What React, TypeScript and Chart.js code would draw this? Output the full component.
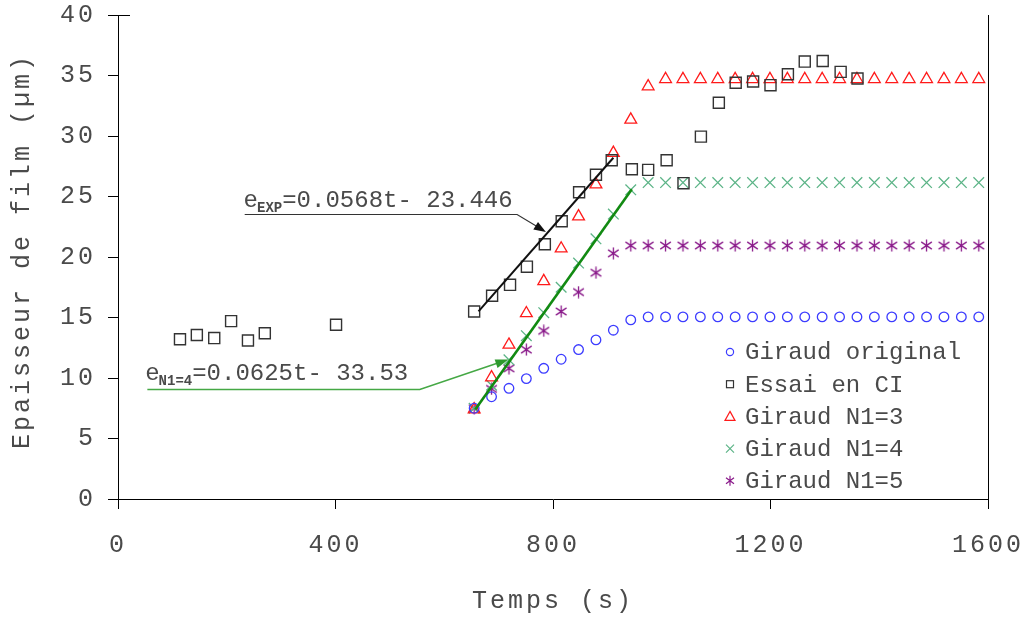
import React, { useEffect, useRef } from "react";
import { Chart, registerables } from "chart.js";
Chart.register(...registerables);

// ---- data ----
const giraudTimes = [655, 687, 719, 751, 783, 815, 847, 879, 911, 943, 975, 1007, 1039, 1071, 1103, 1135, 1167, 1199, 1231, 1263, 1295, 1327, 1359, 1391, 1423, 1455, 1487, 1519, 1551, 1583];
const giraudOriginal = [7.5, 8.45, 9.15, 9.95, 10.8, 11.55, 12.35, 13.15, 13.95, 14.8, 15.05, 15.05, 15.05, 15.05, 15.05, 15.05, 15.05, 15.05, 15.05, 15.05, 15.05, 15.05, 15.05, 15.05, 15.05, 15.05, 15.05, 15.05, 15.05, 15.05];
const giraudN13 = [7.4, 10.05, 12.75, 15.35, 18.0, 20.7, 23.35, 26.0, 28.6, 31.35, 34.1, 34.7, 34.7, 34.7, 34.7, 34.7, 34.7, 34.7, 34.7, 34.7, 34.7, 34.7, 34.7, 34.7, 34.7, 34.7, 34.7, 34.7, 34.7, 34.7];
const giraudN14 = [7.5, 9.4, 11.5, 13.5, 15.4, 17.5, 19.5, 21.5, 23.55, 25.55, 26.15, 26.15, 26.15, 26.15, 26.15, 26.15, 26.15, 26.15, 26.15, 26.15, 26.15, 26.15, 26.15, 26.15, 26.15, 26.15, 26.15, 26.15, 26.15, 26.15];
const giraudN15 = [7.5, 9.1, 10.8, 12.35, 13.9, 15.5, 17.1, 18.7, 20.3, 20.95, 20.95, 20.95, 20.95, 20.95, 20.95, 20.95, 20.95, 20.95, 20.95, 20.95, 20.95, 20.95, 20.95, 20.95, 20.95, 20.95, 20.95, 20.95, 20.95, 20.95];
const essaiTimes = [114, 145, 177, 208, 239, 270, 401, 655, 688, 721, 752, 785, 816, 848, 879, 908, 945, 975, 1009, 1040, 1072, 1105, 1136, 1168, 1200, 1232, 1263, 1296, 1329, 1360];
const essaiValues = [13.2, 13.55, 13.3, 14.7, 13.1, 13.7, 14.4, 15.5, 16.8, 17.7, 19.2, 21.05, 22.95, 25.35, 26.8, 28.0, 27.25, 27.2, 28.0, 26.1, 29.95, 32.75, 34.4, 34.5, 34.2, 35.1, 36.15, 36.2, 35.3, 34.75];
const fitExpTimes = [663, 911];
const fitExpValues = [15.5, 28.2];
const fitN14Times = [657, 945];
const fitN14Values = [7.4, 25.6];
const xTickValues = [0, 400, 800, 1200, 1600];
const yTickValues = [0, 5, 10, 15, 20, 25, 30, 35, 40];
const legendLabels = ["Giraud original", "Essai en CI", "Giraud N1=3", "Giraud N1=4", "Giraud N1=5"];
const xTitle = "Temps (s)";
const yTitle = "Epaisseur de film (µm)";

// annotation anchors (data units)
const expNote = { textX: 231, baseline: 24.1, lineY: 23.53, lineX0: 233, lineX1: 734, tipX: 787, tipY: 22.07 };
const n14Note = { textX: 50, baseline: 9.83, lineY: 9.07, lineX0: 54, lineX1: 555, tipX: 718, tipY: 11.53 };

const C_BLUE = "#3c3cff";
const C_SQ = "#333333";
const C_RED = "#ff1a1a";
const C_X = "#5cb487";
const C_STAR = "#8a1a8a";
const C_TEXT = "#4a4a4a";
const FONT = "'Liberation Mono', 'Courier New', monospace";

function zip(xs: number[], ys: number[]) {
  return xs.map((x, i) => ({ x, y: ys[i] }));
}

function makeStar(color: string, size: number) {
  const c = document.createElement("canvas");
  c.width = size;
  c.height = size;
  const g = c.getContext("2d")!;
  g.strokeStyle = color;
  g.lineWidth = 1.3;
  const m = size / 2;
  g.beginPath();
  g.moveTo(m, 0.5);
  g.lineTo(m, size - 0.5);
  g.moveTo(1.2, size * 0.22);
  g.lineTo(size - 1.2, size * 0.78);
  g.moveTo(size - 1.2, size * 0.22);
  g.lineTo(1.2, size * 0.78);
  g.stroke();
  return c;
}

function drawArrowHead(ctx: CanvasRenderingContext2D, fx: number, fy: number, tx: number, ty: number, color: string, len: number, w: number) {
  const a = Math.atan2(ty - fy, tx - fx);
  const bx = tx - Math.cos(a) * len;
  const by = ty - Math.sin(a) * len;
  const px = -Math.sin(a) * w / 2;
  const py = Math.cos(a) * w / 2;
  ctx.fillStyle = color;
  ctx.beginPath();
  ctx.moveTo(tx, ty);
  ctx.lineTo(bx + px, by + py);
  ctx.lineTo(bx - px, by - py);
  ctx.closePath();
  ctx.fill();
}

function drawSubText(ctx: CanvasRenderingContext2D, x: number, y: number, sub: string, rest: string) {
  ctx.fillStyle = C_TEXT;
  ctx.textBaseline = "alphabetic";
  ctx.textAlign = "left";
  ctx.font = `24px ${FONT}`;
  ctx.fillText("e", x, y);
  let cx = x + ctx.measureText("e").width - 1;
  ctx.font = `bold 14px ${FONT}`;
  ctx.fillText(sub, cx, y + 4.5);
  cx += ctx.measureText(sub).width;
  ctx.font = `24px ${FONT}`;
  ctx.fillText(rest, cx, y);
}

const overlayPlugin = {
  id: "overlay",
  beforeDraw(chart: any) {
    chart.ctx.letterSpacing = "3px";
  },
  afterDraw(chart: any) {
    const ctx: CanvasRenderingContext2D = chart.ctx;
    const { chartArea } = chart;
    const xs = chart.scales.x;
    const ys = chart.scales.y;
    const px = (v: number) => xs.getPixelForValue(v);
    const py = (v: number) => ys.getPixelForValue(v);

    // y axis title
    ctx.save();
    (ctx as any).letterSpacing = "3px";
    ctx.translate(22, (chartArea.top + chartArea.bottom) / 2 - 6);
    ctx.rotate(-Math.PI / 2);
    ctx.font = `25px ${FONT}`;
    ctx.fillStyle = C_TEXT;
    ctx.textAlign = "center";
    ctx.textBaseline = "middle";
    ctx.fillText(yTitle, 0, 0);
    ctx.restore();

    ctx.save();
    (ctx as any).letterSpacing = "0px";

    // right frame line and small top tick
    ctx.strokeStyle = "#000";
    ctx.lineWidth = 1;
    ctx.beginPath();
    ctx.moveTo(Math.round(chartArea.right) + 0.5, chartArea.top);
    ctx.lineTo(Math.round(chartArea.right) + 0.5, chartArea.bottom);
    ctx.moveTo(chartArea.left, Math.round(chartArea.top) + 0.5);
    ctx.lineTo(chartArea.left + 12, Math.round(chartArea.top) + 0.5);
    ctx.stroke();

    // EXP annotation
    {
      const n = expNote;
      drawSubText(ctx, px(n.textX), py(n.baseline), "EXP", "=0.0568t- 23.446");
      const ly = Math.round(py(n.lineY)) + 0.5;
      ctx.strokeStyle = "#333";
      ctx.lineWidth = 1.2;
      ctx.beginPath();
      ctx.moveTo(px(n.lineX0), ly);
      ctx.lineTo(px(n.lineX1), ly);
      const tx = px(n.tipX), ty = py(n.tipY);
      const a = Math.atan2(ty - ly, tx - px(n.lineX1));
      ctx.lineTo(tx - Math.cos(a) * 8, ty - Math.sin(a) * 8);
      ctx.stroke();
      drawArrowHead(ctx, px(n.lineX1), ly, tx, ty, "#111", 12, 9);
    }
    // N1=4 annotation
    {
      const n = n14Note;
      drawSubText(ctx, px(n.textX), py(n.baseline), "N1=4", "=0.0625t- 33.53");
      const ly = Math.round(py(n.lineY)) + 0.5;
      ctx.strokeStyle = "#45a845";
      ctx.lineWidth = 1.6;
      ctx.beginPath();
      ctx.moveTo(px(n.lineX0), ly);
      ctx.lineTo(px(n.lineX1), ly);
      const tx = px(n.tipX), ty = py(n.tipY);
      const a = Math.atan2(ty - ly, tx - px(n.lineX1));
      ctx.lineTo(tx - Math.cos(a) * 8, ty - Math.sin(a) * 8);
      ctx.stroke();
      drawArrowHead(ctx, px(n.lineX1), ly, tx, ty, "#2e9a2e", 13, 9);
    }

    // legend
    const mx = chartArea.right - 258;
    const tx = chartArea.right - 243;
    const y0 = chartArea.top + 337;
    const step = 32.2;
    ctx.font = `24px ${FONT}`;
    ctx.textBaseline = "middle";
    ctx.textAlign = "left";
    legendLabels.forEach((label, i) => {
      const y = y0 + i * step;
      ctx.lineWidth = 1.2;
      if (i === 0) {
        ctx.strokeStyle = C_BLUE;
        ctx.beginPath();
        ctx.arc(mx, y, 3.6, 0, Math.PI * 2);
        ctx.stroke();
      } else if (i === 1) {
        ctx.strokeStyle = C_SQ;
        ctx.strokeRect(mx - 3.5, y - 3.5, 7, 7);
      } else if (i === 2) {
        ctx.strokeStyle = C_RED;
        ctx.beginPath();
        ctx.moveTo(mx, y - 5);
        ctx.lineTo(mx + 5, y + 4);
        ctx.lineTo(mx - 5, y + 4);
        ctx.closePath();
        ctx.stroke();
      } else if (i === 3) {
        ctx.strokeStyle = C_X;
        ctx.beginPath();
        ctx.moveTo(mx - 4, y - 4);
        ctx.lineTo(mx + 4, y + 4);
        ctx.moveTo(mx + 4, y - 4);
        ctx.lineTo(mx - 4, y + 4);
        ctx.stroke();
      } else {
        ctx.strokeStyle = C_STAR;
        ctx.beginPath();
        ctx.moveTo(mx, y - 5);
        ctx.lineTo(mx, y + 5);
        ctx.moveTo(mx - 4, y - 3);
        ctx.lineTo(mx + 4, y + 3);
        ctx.moveTo(mx + 4, y - 3);
        ctx.lineTo(mx - 4, y + 3);
        ctx.stroke();
      }
      ctx.fillStyle = C_TEXT;
      ctx.fillText(label, tx, y + 1);
    });
    ctx.restore();
  },
};

function noPad(s: any) {
  s.paddingTop = 0;
  s.paddingBottom = 0;
  s.paddingLeft = 0;
  s.paddingRight = 0;
}

export default function App() {
  const ref = useRef<HTMLCanvasElement | null>(null);
  useEffect(() => {
    if (!ref.current) return;
    const star = makeStar(C_STAR, 13);
    const tickFont = { family: FONT, size: 25 };
    const chart = new Chart(ref.current, {
      type: "scatter",
      data: {
        datasets: [
          {
            label: "fit EXP",
            data: zip(fitExpTimes, fitExpValues),
            showLine: true,
            borderColor: "#111",
            borderWidth: 2,
            pointRadius: 0,
          },
          {
            label: "fit N1=4",
            data: zip(fitN14Times, fitN14Values),
            showLine: true,
            borderColor: "#128a12",
            borderWidth: 2.6,
            pointRadius: 0,
          },
          {
            label: legendLabels[1],
            data: zip(essaiTimes, essaiValues),
            pointStyle: "rect",
            radius: 7.8,
            borderColor: C_SQ,
            backgroundColor: "rgba(0,0,0,0)",
            borderWidth: 1.4,
          },
          {
            label: legendLabels[0],
            data: zip(giraudTimes, giraudOriginal),
            pointStyle: "circle",
            radius: 4.8,
            borderColor: C_BLUE,
            backgroundColor: "rgba(0,0,0,0)",
            borderWidth: 1.3,
          },
          {
            label: legendLabels[2],
            data: zip(giraudTimes, giraudN13),
            pointStyle: "triangle",
            radius: 6.8,
            borderColor: C_RED,
            backgroundColor: "rgba(0,0,0,0)",
            borderWidth: 1.3,
          },
          {
            label: legendLabels[3],
            data: zip(giraudTimes, giraudN14),
            pointStyle: "crossRot",
            radius: 7.5,
            borderColor: C_X,
            backgroundColor: "rgba(0,0,0,0)",
            borderWidth: 1.3,
          },
          {
            label: legendLabels[4],
            data: zip(giraudTimes, giraudN15),
            pointStyle: star as any,
            radius: 6,
            borderColor: C_STAR,
            backgroundColor: "rgba(0,0,0,0)",
          },
        ],
      },
      options: {
        animation: false,
        responsive: false,
        events: [],
        layout: { padding: { top: 15, right: 42, left: 0, bottom: 0 } },
        plugins: { legend: { display: false }, tooltip: { enabled: false } },
        scales: {
          x: {
            type: "linear",
            min: 0,
            max: 1600,
            afterFit: (s: any) => { s.height = 121; noPad(s); },
            afterBuildTicks: (s: any) => { s.ticks = xTickValues.map((v) => ({ value: v })); },
            border: { display: true, color: "#000", width: 1 },
            grid: { display: true, drawOnChartArea: false, drawTicks: true, tickLength: 10, color: "#000" },
            ticks: { font: tickFont, color: C_TEXT, padding: 21, maxRotation: 0, callback: (v: any) => String(v) },
            title: { display: true, text: xTitle, font: { family: FONT, size: 25 }, color: C_TEXT, padding: { top: 0, bottom: 4 } },
          },
          y: {
            type: "linear",
            min: 0,
            max: 40,
            afterFit: (s: any) => { s.width = 118; noPad(s); },
            afterBuildTicks: (s: any) => { s.ticks = yTickValues.map((v) => ({ value: v })); },
            border: { display: true, color: "#000", width: 1 },
            grid: { display: true, drawOnChartArea: false, drawTicks: true, tickLength: 10, color: "#000" },
            ticks: { font: tickFont, color: C_TEXT, padding: 12, callback: (v: any) => String(v) },
            title: { display: false, text: yTitle },
          },
        },
      },
      plugins: [overlayPlugin],
    } as any);
    return () => chart.destroy();
  }, []);
  return (
    <div style={{ position: "fixed", left: 0, top: 0, width: 1030, height: 620, background: "#fff" }}>
      <canvas ref={ref} width={1030} height={620} style={{ display: "block" }} />
    </div>
  );
}
